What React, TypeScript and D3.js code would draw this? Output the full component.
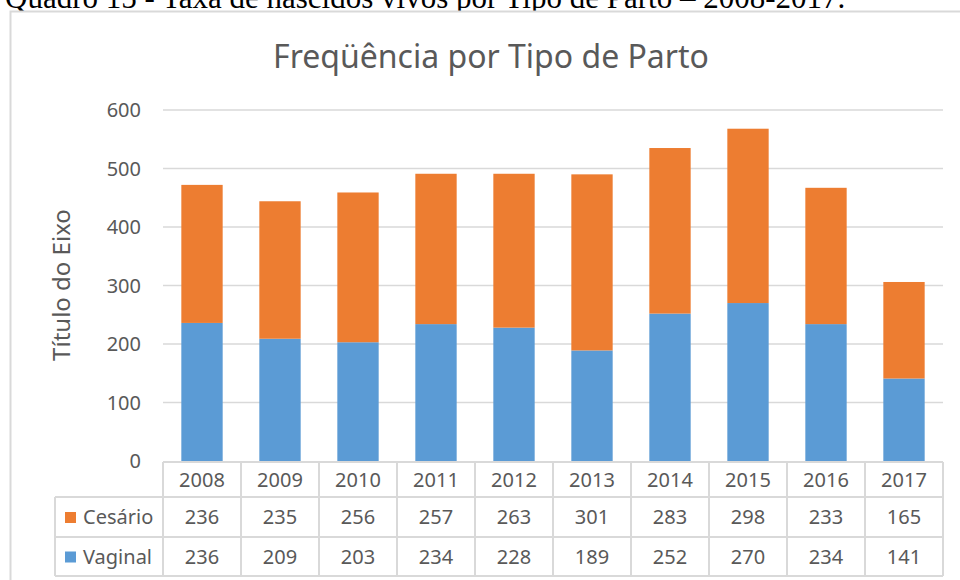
import { scaleBand, scaleLinear, stack } from "d3";

const width = 960;
const height = 580;

const years = ["2008", "2009", "2010", "2011", "2012", "2013", "2014", "2015", "2016", "2017"];
const vaginal = [236, 209, 203, 234, 228, 189, 252, 270, 234, 141];
const cesario = [236, 235, 256, 257, 263, 301, 283, 298, 233, 165];
const yTicks = [0, 100, 200, 300, 400, 500, 600];

const seriesNames = ["Vaginal", "Cesário"];
const colors: Record<string, string> = { Vaginal: "#5B9BD5", "Cesário": "#ED7D31" };
// a tabela mostra Cesário primeiro
const tableRows = [
  { name: "Cesário", values: cesario },
  { name: "Vaginal", values: vaginal },
];

const font = "'Noto Sans', sans-serif";
const textColor = "#595959";
const gridColor = "#d9d9d9";

const plotLeft = 163;
const plotRight = 943;
const plotTop = 110;
const plotBottom = 461;
const legendLeft = 55;
const rowEdges = [462, 497, 537, 576];

export default function App() {
  const x = scaleBand<string>()
    .domain(years)
    .range([plotLeft, plotRight])
    .paddingInner(0.47)
    .paddingOuter(0.235);
  const y = scaleLinear().domain([0, 600]).range([plotBottom, plotTop]);

  const rows = years.map((year, i) => ({ year, Vaginal: vaginal[i], "Cesário": cesario[i] }));
  const stacked = stack<any>().keys(seriesNames)(rows);

  const step = x.step();
  const colEdges = years.map((_, i) => plotLeft + i * step).concat([plotRight]);

  return (
    <svg
      width={width}
      height={height}
      style={{ position: "absolute", left: 0, top: 0, background: "#fff" }}
    >
      <text
        x={5}
        y={8}
        fontFamily="'Liberation Serif', serif"
        fontSize={31}
        fill="#000"
      >
        Quadro 15 - Taxa de nascidos vivos por Tipo de Parto – 2008-2017.
      </text>
      <rect x={10.5} y={11.5} width={1000} height={600} fill="#fff" stroke={gridColor} strokeWidth={2} />

      <text x={491} y={68} textAnchor="middle" fontFamily={font} fontSize={32} fill={textColor}>
        Freqüência por Tipo de Parto
      </text>

      {yTicks.map((t) => (
        <g key={t}>
          {t > 0 && (
            <line x1={plotLeft} x2={plotRight} y1={y(t)} y2={y(t)} stroke={gridColor} strokeWidth={1.5} />
          )}
          <text x={141} y={y(t)} dy="0.35em" textAnchor="end" fontFamily={font} fontSize={20} fill={textColor}>
            {t}
          </text>
        </g>
      ))}

      <text
        transform="translate(70,285) rotate(-90)"
        textAnchor="middle"
        fontFamily={font}
        fontSize={24}
        fill={textColor}
      >
        Título do Eixo
      </text>

      {stacked.map((layer) => (
        <g key={layer.key} fill={colors[layer.key]}>
          {layer.map((d, i) => (
            <rect
              key={i}
              x={x(d.data.year)}
              y={y(d[1])}
              width={x.bandwidth()}
              height={y(d[0]) - y(d[1])}
            />
          ))}
        </g>
      ))}

      {/* tabela de dados */}
      <g stroke={gridColor} strokeWidth={2} fill="none">
        <line x1={plotLeft} x2={plotRight} y1={rowEdges[0]} y2={rowEdges[0]} />
        {rowEdges.slice(1).map((r) => (
          <line key={r} x1={legendLeft} x2={plotRight} y1={r} y2={r} />
        ))}
        {colEdges.map((c) => (
          <line key={c} x1={c} x2={c} y1={rowEdges[0]} y2={rowEdges[3]} />
        ))}
        <line x1={legendLeft} x2={legendLeft} y1={rowEdges[1]} y2={rowEdges[3]} />
      </g>

      {years.map((year) => (
        <text
          key={year}
          x={(x(year) as number) + x.bandwidth() / 2}
          y={(rowEdges[0] + rowEdges[1]) / 2}
          dy="0.35em"
          textAnchor="middle"
          fontFamily={font}
          fontSize={20}
          fill={textColor}
        >
          {year}
        </text>
      ))}

      {tableRows.map((row, r) => {
        const cy = (rowEdges[r + 1] + rowEdges[r + 2]) / 2;
        return (
          <g key={row.name}>
            <rect x={65} y={cy - 5} width={11} height={11} fill={colors[row.name]} />
            <text x={83} y={cy} dy="0.35em" fontFamily={font} fontSize={20} fill={textColor}>
              {row.name}
            </text>
            {row.values.map((v, i) => (
              <text
                key={i}
                x={(x(years[i]) as number) + x.bandwidth() / 2}
                y={cy}
                dy="0.35em"
                textAnchor="middle"
                fontFamily={font}
                fontSize={20}
                fill={textColor}
              >
                {v}
              </text>
            ))}
          </g>
        );
      })}
    </svg>
  );
}
